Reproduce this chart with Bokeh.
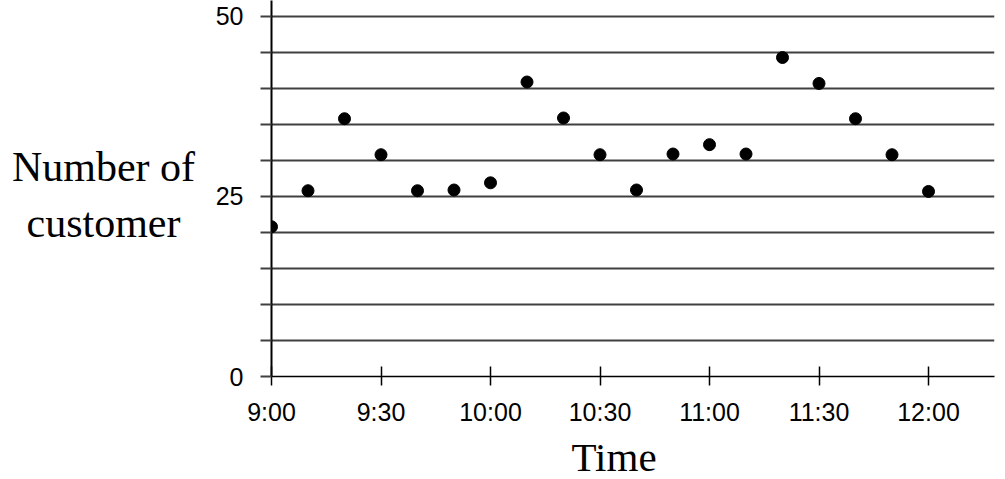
from bokeh.plotting import figure
from bokeh.models import FixedTicker, Range1d, ColumnDataSource, Title
from bokeh.layouts import row
from bokeh.core.properties import value
from bokeh.embed import file_html
from bokeh.resources import INLINE

# minutes after 9:00
minutes = [0, 10, 20, 30, 40, 50, 60, 70, 80, 90, 100, 110, 120, 130, 140, 150, 160, 170, 180]
customers = [20.8, 25.8, 35.8, 30.8, 25.8, 25.9, 26.9, 40.9, 35.9, 30.8, 25.9, 30.9, 32.2, 30.9, 44.3, 40.7, 35.8, 30.8, 25.7]

x_tick_values = [0, 30, 60, 90, 120, 150, 180]
x_tick_labels = ["9:00", "9:30", "10:00", "10:30", "11:00", "11:30", "12:00"]
y_grid_values = [0, 5, 10, 15, 20, 25, 30, 35, 40, 45, 50]
y_labelled = {0: "0", 25: "25", 50: "50"}

x_title = "Time"
y_title_lines = ["Number of", "customer"]

H = 486
BOTTOM = 110
LEFT_W = 200
yr = Range1d(0, 52.22)

# ---- left panel holding the horizontal y title (same vertical frame as the chart) ----
lf = figure(width=LEFT_W, height=H, output_backend="svg", toolbar_location=None,
            x_range=Range1d(0, LEFT_W), y_range=yr,
            x_axis_location=None, y_axis_location=None,
            min_border_left=0, min_border_right=0, min_border_top=0, min_border_bottom=BOTTOM)
lf.outline_line_color = None
lf.grid.visible = False
lf.text(x=[103, 103], y=[29.15, 21.25], text=y_title_lines, text_align="center",
        text_baseline="alphabetic", text_font=value("Liberation Serif"),
        text_font_size=value("42px"), text_color="black")

# ---- main chart ----
p = figure(width=800, height=H, output_backend="svg", toolbar_location=None,
           x_range=Range1d(0, 198.08), y_range=yr,
           min_border_left=71, min_border_right=6, min_border_top=0, min_border_bottom=BOTTOM)
p.outline_line_color = None

p.xgrid.visible = False
p.ygrid.ticker = FixedTicker(ticks=y_grid_values)
p.ygrid.grid_line_color = "#404040"
p.ygrid.grid_line_width = 2

ya = p.yaxis[0]
ya.ticker = FixedTicker(ticks=y_grid_values)
ya.major_label_overrides = {v: y_labelled.get(v, "") for v in y_grid_values}
ya.axis_line_color = "black"
ya.axis_line_width = 2
ya.major_tick_in = 0
ya.major_tick_out = 11
ya.major_tick_line_color = "#404040"
ya.major_tick_line_width = 2
ya.minor_tick_line_color = None
ya.major_label_standoff = 17
ya.major_label_text_font = "Liberation Sans"
ya.major_label_text_font_size = "25px"
ya.major_label_text_color = "black"

xa = p.xaxis[0]
xa.ticker = FixedTicker(ticks=x_tick_values)
xa.major_label_overrides = dict(zip(x_tick_values, x_tick_labels))
xa.axis_line_color = "black"
xa.axis_line_width = 1.6
xa.major_tick_in = 10
xa.major_tick_out = 9
xa.major_tick_line_color = "black"
xa.major_tick_line_width = 1.5
xa.minor_tick_line_color = None
xa.major_label_standoff = 12
xa.major_label_text_font = "Liberation Sans"
xa.major_label_text_font_size = "25px"
xa.major_label_text_color = "black"

src = ColumnDataSource(dict(x=minutes, y=customers))
p.scatter("x", "y", source=src, size=12, color="black")

p.add_layout(Title(text=x_title, align="left", offset=300, standoff=7,
                   text_font="Liberation Serif", text_font_size="41px",
                   text_font_style="normal", text_color="black"), "below")

layout = row(lf, p)
open("out.html", "w").write(file_html(layout, INLINE))
